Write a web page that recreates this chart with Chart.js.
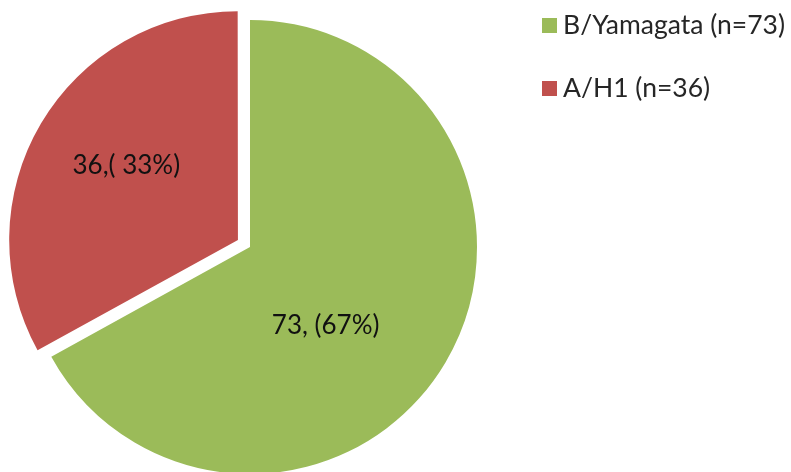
<!DOCTYPE html>
<html>
<head>
<meta charset="utf-8">
<script src="https://cdn.jsdelivr.net/npm/chart.js@4"></script>
<style>
  html, body { margin: 0; padding: 0; background: #fff; }
  canvas { display: block; }
</style>
</head>
<body>
<canvas id="pie" width="791" height="472"></canvas>
<script>
// datos
var categorias = ['B/Yamagata (n=73)', 'A/H1 (n=36)']
var valores = [73, 36]
var etiquetas = ['73, (67%)', '36,( 33%)']
var colores = ['#9BBB59', '#C0504D']

var FUENTE = 'Lato, "Open Sans", sans-serif'

// donde va cada etiqueta dentro de su porcion (fraccion del radio, giro en grados)
var colocacion = [{ frac: 0.48, giro: 15.5 }, { frac: 0.59, giro: 3 }]

var etiquetasPlugin = {
  id: 'etiquetas',
  afterDatasetsDraw: function (chart) {
    var ctx = chart.ctx
    var arcos = chart.getDatasetMeta(0).data
    var offsets = chart.data.datasets[0].offset
    ctx.save()
    ctx.font = '26px ' + FUENTE
    ctx.fillStyle = '#111'
    ctx.textAlign = 'center'
    ctx.textBaseline = 'middle'
    arcos.forEach(function (arc, i) {
      var p = arc.getProps(['x', 'y', 'startAngle', 'endAngle', 'outerRadius'], true)
      var mid = (p.startAngle + p.endAngle) / 2
      var ang = mid + colocacion[i].giro * Math.PI / 180
      var off = (offsets[i] || 0) / 4 // chart.js v4 divide el offset entre 4
      var x = p.x + Math.cos(mid) * off + Math.cos(ang) * p.outerRadius * colocacion[i].frac
      var y = p.y + Math.sin(mid) * off + Math.sin(ang) * p.outerRadius * colocacion[i].frac
      ctx.fillText(etiquetas[i], x, y)
    })
    ctx.restore()
  }
}

var leyendaPlugin = {
  id: 'leyenda',
  afterDraw: function (chart) {
    var ctx = chart.ctx
    ctx.save()
    ctx.font = '26.5px ' + FUENTE
    ctx.textBaseline = 'middle'
    chart.data.labels.forEach(function (txt, i) {
      var y = 25 + i * 63
      ctx.fillStyle = colores[i]
      ctx.fillRect(542, y - 7, 15, 15)
      ctx.fillStyle = '#262626'
      ctx.fillText(txt, 563, y)
    })
    ctx.restore()
  }
}

new Chart(document.getElementById('pie'), {
  type: 'pie',
  data: {
    labels: categorias,
    datasets: [{
      data: valores,
      backgroundColor: colores,
      borderWidth: 0,
      offset: [0, 56],
      radius: 227,
      clip: false
    }]
  },
  options: {
    responsive: false,
    animation: false,
    layout: { padding: { left: 0, right: 291, top: 22, bottom: 0 } },
    plugins: {
      legend: { display: false },
      tooltip: { enabled: false }
    }
  },
  plugins: [etiquetasPlugin, leyendaPlugin]
})
</script>
</body>
</html>
